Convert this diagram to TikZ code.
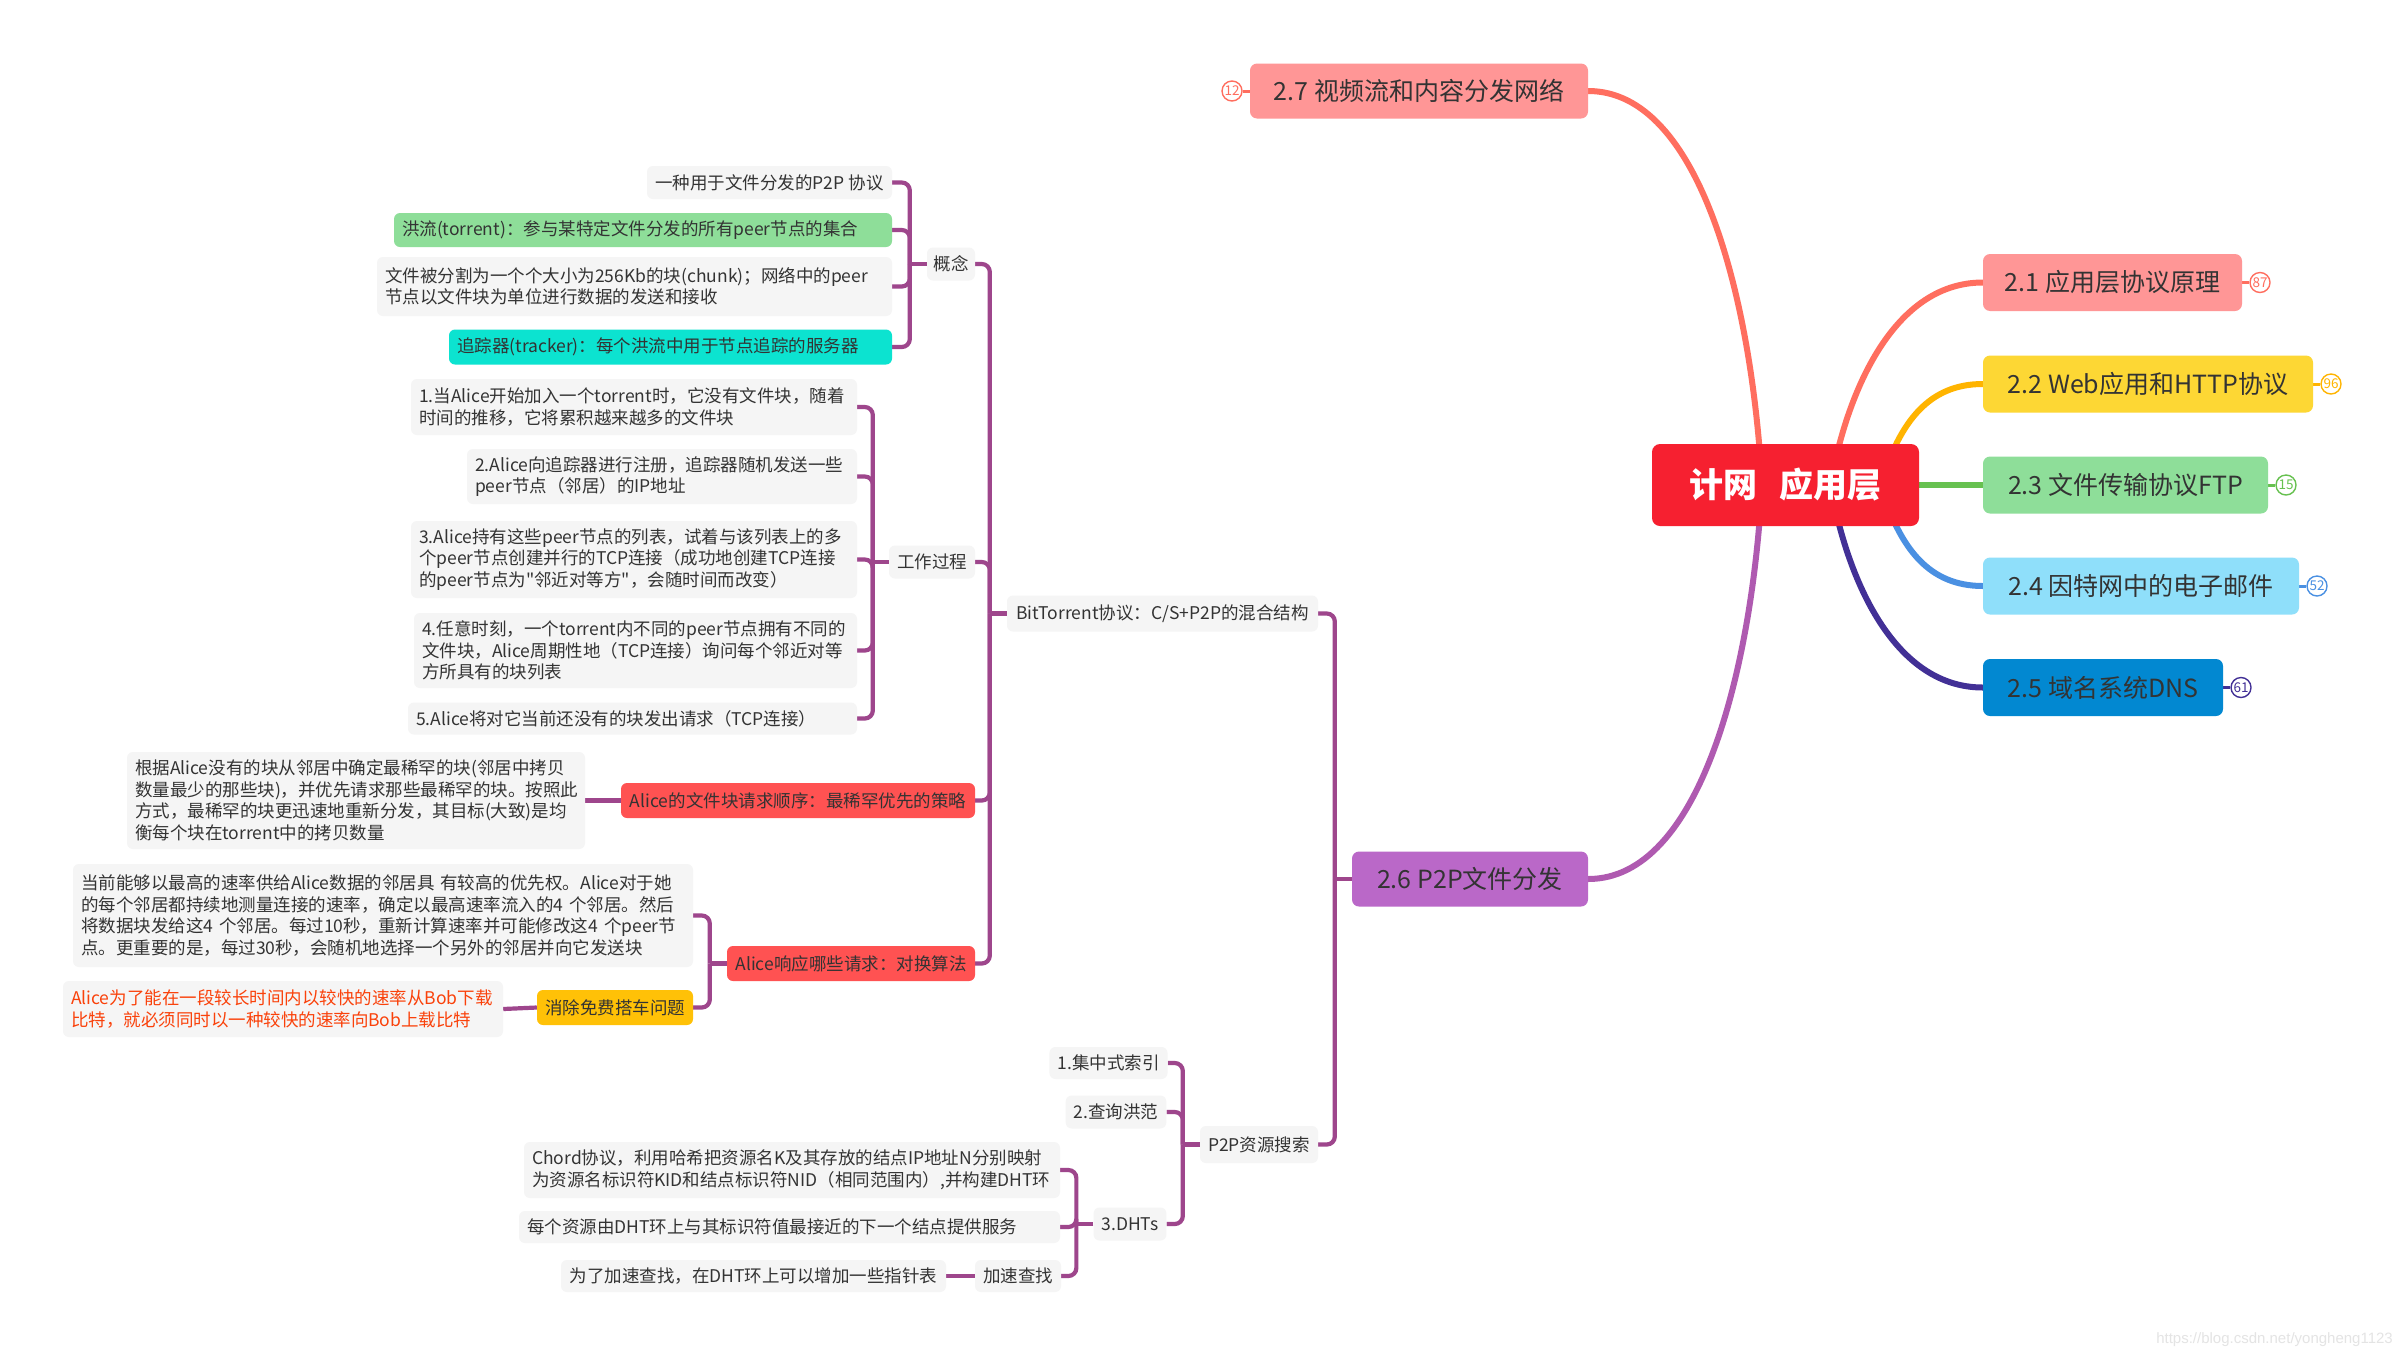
\documentclass[tikz,border=0pt]{standalone}
\usepackage{fontspec}
\newfontfamily\cjk{Noto Sans CJK SC}
\newfontfamily\wmfont{Liberation Sans}
\usetikzlibrary{backgrounds}
\definecolor{gbg}{RGB}{245,245,245}
\definecolor{txt}{RGB}{51,51,51}
\definecolor{rootc}{RGB}{246,32,48}
\definecolor{pinkc}{RGB}{255,150,150}
\definecolor{yelc}{RGB}{253,215,52}
\definecolor{grnc}{RGB}{142,222,153}
\definecolor{ltbc}{RGB}{143,223,250}
\definecolor{bluc}{RGB}{2,136,209}
\definecolor{purc}{RGB}{186,104,200}
\definecolor{salc}{RGB}{255,110,95}
\definecolor{orgc}{RGB}{255,180,0}
\definecolor{grlc}{RGB}{103,193,80}
\definecolor{bllc}{RGB}{74,144,226}
\definecolor{indc}{RGB}{66,48,150}
\definecolor{brc}{RGB}{158,70,140}
\definecolor{redc}{RGB}{255,82,82}
\definecolor{ambc}{RGB}{255,193,7}
\definecolor{cyac}{RGB}{12,227,208}
\definecolor{ortx}{RGB}{250,65,10}
\definecolor{wmc}{RGB}{228,228,228}
\tikzset{
  topic/.style={rounded corners=7pt, text=txt, font=\cjk\fontsize{25}{30}\selectfont, inner xsep=0pt, inner ysep=0pt, minimum height=57pt},
  sub/.style={rounded corners=6pt, fill=gbg, text=txt, font=\cjk\fontsize{17.5}{21.5}\selectfont, inner xsep=8pt, inner ysep=1pt, align=left},
  badge/.style={circle, draw=#1, fill=white, line width=1.4pt, text=#1, minimum size=20pt, inner sep=0pt, font=\cjk\fontsize{13.5}{13.5}\selectfont},
  mainln/.style={draw=#1, line width=6pt, line cap=round},
  bdln/.style={draw=#1, line width=3pt},
  br/.style={draw=brc, line width=4.2pt},
  brr/.style={draw=brc, line width=4.2pt, rounded corners=8pt},
}
\begin{document}
\begin{tikzpicture}[x=1pt, y=-1pt]
\useasboundingbox (0,0) rectangle (2403,1358);

% ---------- top level ----------
\node[topic, fill=rootc, text=white, font=\cjk\bfseries\fontsize{34}{40}\selectfont, minimum width=267pt, minimum height=82pt, rounded corners=8pt] (root) at (1785.5,485) {计网\hspace{0.65em}应用层};
\node[topic, fill=pinkc, minimum width=338pt, minimum height=55pt] (t27) at (1419,91) {2.7 视频流和内容分发网络};
\node[topic, fill=pinkc, minimum width=259pt] (t21) at (2112.5,282.5) {2.1 应用层协议原理};
\node[topic, fill=yelc, minimum width=330pt] (t22) at (2148,384) {2.2 Web应用和HTTP协议};
\node[topic, fill=grnc, minimum width=285pt] (t23) at (2125.5,485) {2.3 文件传输协议FTP};
\node[topic, fill=ltbc, minimum width=316pt] (t24) at (2141,586) {2.4 因特网中的电子邮件};
\node[topic, fill=bluc, minimum width=240pt] (t25) at (2103,687.5) {2.5 域名系统DNS};
\node[topic, fill=purc, minimum width=236pt, minimum height=55pt] (t26) at (1470,879) {2.6 P2P文件分发};

\node[badge=salc] (b12) at (1232,91) {12};
\node[badge=salc] (b87) at (2260,282.5) {87};
\node[badge=orgc] (b96) at (2331,384) {96};
\node[badge=grlc] (b15) at (2286,485) {15};
\node[badge=bllc] (b52) at (2317,586) {52};
\node[badge=indc] (b61) at (2241,687.5) {61};

% ---------- 2.6 subtree ----------
\node[sub, minimum width=311pt, minimum height=36pt] (bt) at (1162.5,613.5) {BitTorrent协议：C/S+P2P的混合结构};
\node[sub, minimum width=118pt, minimum height=37pt] (p2p) at (1259,1144.5) {P2P资源搜索};

\node[sub, minimum width=48pt, minimum height=33pt, inner xsep=6pt] (gn) at (951,264) {概念};
\node[sub, minimum width=86pt, minimum height=33pt] (gz) at (932,562) {工作过程};
\node[sub, fill=redc, minimum width=354pt, minimum height=35pt] (ra) at (798,800.5) {Alice的文件块请求顺序：最稀罕优先的策略};
\node[sub, fill=redc, minimum width=248pt, minimum height=35pt] (rb) at (851,963.5) {Alice响应哪些请求：对换算法};

\node[sub, minimum width=245pt, minimum height=33pt] (c1) at (769.5,182.5) {一种用于文件分发的P2P 协议};
\node[sub, fill=grnc, text width=482pt, minimum height=34pt] (c2) at (643,230) {洪流(torrent)：参与某特定文件分发的所有peer节点的集合};
\node[sub, text width=499pt, minimum height=59pt] (c3) at (634.5,286.5) {文件被分割为一个个大小为256Kb的块(chunk)；网络中的peer\\节点以文件块为单位进行数据的发送和接收};
\node[sub, fill=cyac, text width=427pt, minimum height=35pt] (c4) at (670.5,347) {追踪器(tracker)：每个洪流中用于节点追踪的服务器};

\node[sub, text width=430pt, minimum height=56pt] (w1) at (634,407) {1.当Alice开始加入一个torrent时，它没有文件块，随着\\时间的推移，它将累积越来越多的文件块};
\node[sub, text width=374pt, minimum height=55pt] (w2) at (662,476.5) {2.Alice向追踪器进行注册，追踪器随机发送一些\\peer节点（邻居）的IP地址};
\node[sub, text width=430pt, minimum height=77pt] (w3) at (634,559.5) {3.Alice持有这些peer节点的列表，试着与该列表上的多\\个peer节点创建并行的TCP连接（成功地创建TCP连接\\的peer节点为"邻近对等方"，会随时间而改变）};
\node[sub, text width=427pt, minimum height=75pt] (w4) at (635.5,650.5) {4.任意时刻，一个torrent内不同的peer节点拥有不同的\\文件块，Alice周期性地（TCP连接）询问每个邻近对等\\方所具有的块列表};
\node[sub, text width=433pt, minimum height=32pt] (w5) at (632.5,718.5) {5.Alice将对它当前还没有的块发出请求（TCP连接）};

\node[sub, text width=442pt, minimum height=97pt] (gj) at (356,800.5) {根据Alice没有的块从邻居中确定最稀罕的块(邻居中拷贝\\数量最少的那些块)，并优先请求那些最稀罕的块。按照此\\方式，最稀罕的块更迅速地重新分发，其目标(大致)是均\\衡每个块在torrent中的拷贝数量};

\node[sub, text width=604pt, minimum height=103pt] (d1) at (383,915.5) {当前能够以最高的速率供给Alice数据的邻居具 有较高的优先权。Alice对于她\\的每个邻居都持续地测量连接的速率，确定以最高速率流入的4 个邻居。然后\\将数据块发给这4 个邻居。每过10秒，重新计算速率并可能修改这4 个peer节\\点。更重要的是，每过30秒，会随机地选择一个另外的邻居并向它发送块};
\node[sub, fill=ambc, minimum width=154pt, minimum height=35pt] (xc) at (615,1007.5) {消除免费搭车问题};
\node[sub, text=ortx, text width=424pt, minimum height=56pt] (ab) at (283,1009) {Alice为了能在一段较长时间内以较快的速率从Bob下载\\比特，就必须同时以一种较快的速率向Bob上载比特};

\node[sub, minimum width=115pt, minimum height=32pt] (q1) at (1108.5,1063) {1.集中式索引};
\node[sub, minimum width=100pt, minimum height=33pt] (q2) at (1116,1112) {2.查询洪范};
\node[sub, minimum width=72pt, minimum height=33pt] (q3) at (1130,1224) {3.DHTs};
\node[sub, text width=520pt, minimum height=56pt] (h1) at (792,1170) {Chord协议，利用哈希把资源名K及其存放的结点IP地址N分别映射\\为资源名标识符KID和结点标识符NID（相同范围内）,并构建DHT环};
\node[sub, text width=525pt, minimum height=32pt] (h2) at (789.5,1227) {每个资源由DHT环上与其标识符值最接近的下一个结点提供服务};
\node[sub, minimum width=84pt, minimum height=32pt] (h3) at (1018,1276) {加速查找};
\node[sub, minimum width=385pt, minimum height=32pt] (h4) at (753.5,1276) {为了加速查找，在DHT环上可以增加一些指针表};

\node[font=\wmfont\fontsize{15}{15}\selectfont, text=wmc, anchor=east, inner sep=0pt] (wm) at (2393,1340) {https://blog.csdn.net/yongheng1123};

% ---------- connectors ----------
\begin{pgfonlayer}{background}
\fill[white] (0,0) rectangle (2403,1358);
\draw[mainln=salc] (t27.east) .. controls (1700,91) and (1752,300) .. (1762,485) coordinate (r27);
\draw[mainln=purc!60!brc] (t26.east) .. controls (1700,879) and (1752,670) .. (1762,485) coordinate (r26);
\draw[mainln=salc] (root.center) ++(45,0) coordinate (r21) .. controls (1845,400) and (1890,282.5) .. (t21.west);
\draw[mainln=orgc] (root.center) ++(95,0) coordinate (r22) .. controls (1900,420) and (1930,384) .. (t22.west);
\draw[mainln=grlc] (root.center) -- (t23.west);
\draw[mainln=bllc] (root.center) ++(95,0) coordinate (r24) .. controls (1900,550) and (1930,586) .. (t24.west);
\draw[mainln=indc] (root.center) ++(45,0) coordinate (r25) .. controls (1845,570) and (1890,687.5) .. (t25.west);

\draw[bdln=salc] (b12) -- (t27.west);
\draw[bdln=salc] (t21.east) -- (b87);
\draw[bdln=orgc] (t22.east) -- (b96);
\draw[bdln=grlc] (t23.east) -- (b15);
\draw[bdln=bllc] (t24.east) -- (b52);
\draw[bdln=indc] (t25.east) -- (b61);

% 2.6
\draw[br] (t26.west) -- ++(-17,0) coordinate (j26);
\draw[brr] (j26) |- (bt.east);
\draw[brr] (j26) |- (p2p.east);
% BitTorrent
\draw[br] (bt.west) -- ++(-17,0) coordinate (jbt);
\draw[brr] (jbt) |- (gn.east);
\draw[brr] (jbt) |- (gz.east);
\draw[brr] (jbt) |- (ra.east);
\draw[brr] (jbt) |- (rb.east);
% concept
\draw[br] (gn.west) -- ++(-17,0) coordinate (jgn);
\draw[brr] (jgn) |- (c1.east);
\draw[brr] (jgn) |- (c2.east);
\draw[brr] (jgn) |- (c3.east);
\draw[brr] (jgn) |- (c4.east);
% work process
\draw[br] (gz.west) -- ++(-16,0) coordinate (jgz);
\draw[brr] (jgz) |- (w1.east);
\draw[brr] (jgz) |- (w2.east);
\draw[brr] (jgz) |- (w3.east);
\draw[brr] (jgz) |- (w4.east);
\draw[brr] (jgz) |- (w5.east);
% rarest first
\draw[br] (ra.west) -- (gj.east);
% tit-for-tat
\draw[br] (rb.west) -- ++(-17,0) coordinate (jrb);
\draw[brr] (jrb) |- (d1.east);
\draw[brr] (jrb) |- (xc.east);
\draw[br] (xc.west) -- (ab.east);
% P2P search
\draw[br] (p2p.west) -- ++(-17,0) coordinate (jp);
\draw[brr] (jp) |- (q1.east);
\draw[brr] (jp) |- (q2.east);
\draw[brr] (jp) |- (q3.east);
% DHTs
\draw[br] (q3.west) -- ++(-17,0) coordinate (jq);
\draw[brr] (jq) |- (h1.east);
\draw[brr] (jq) |- (h2.east);
\draw[brr] (jq) |- (h3.east);
\draw[br] (h3.west) -- (h4.east);
\end{pgfonlayer}
\end{tikzpicture}
\end{document}
